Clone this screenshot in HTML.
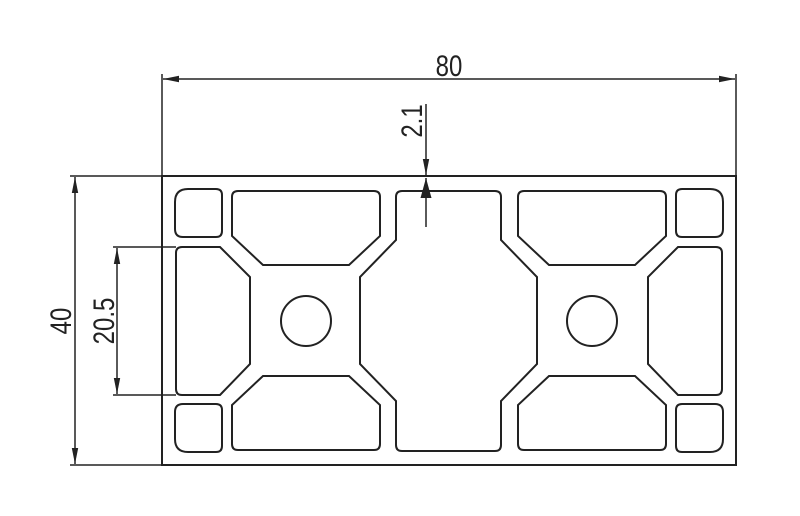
<!DOCTYPE html>
<html><head><meta charset="utf-8"><style>html,body{margin:0;padding:0;background:#fff}svg{display:block}</style></head>
<body>
<svg width="800" height="516" viewBox="0 0 800 516" xmlns="http://www.w3.org/2000/svg">
<defs>
<marker id="a" viewBox="0 0 16 8" refX="16" refY="4" markerWidth="16" markerHeight="8" markerUnits="userSpaceOnUse" orient="auto"><path d="M0,0.8 L16,4 L0,7.2 Z" fill="#222"/></marker>
<marker id="b" viewBox="0 0 20 12" refX="20" refY="6" markerWidth="20" markerHeight="12" markerUnits="userSpaceOnUse" orient="auto"><path d="M0,0.5 L20,6 L0,11.5 Z" fill="#222"/></marker>
</defs>
<g fill="none" stroke="#222" stroke-width="2">
  <rect x="162" y="176" width="574" height="289"/>
  <path d="M182,247 H220 L250,277 V364 L220,395 H182 Q176,395 176,389 V253 Q176,247 182,247 Z"/>
  <path d="M716,247 H678 L648,277 V364 L678,395 H716 Q722,395 722,389 V253 Q722,247 716,247 Z"/>
  <path d="M402,191 H495 Q501,191 501,197 V240 L537,277 V364 L501,401 V445 Q501,451 495,451 H402 Q396,451 396,445 V401 L360,364 V277 L396,240 V197 Q396,191 402,191 Z"/>
  <circle cx="306" cy="321" r="25"/>
  <circle cx="592" cy="321" r="25"/>
</g>
<g fill="none" stroke="#222" stroke-width="2">
  <path d="M188,189 H216 Q222,189 222,195 V231 Q222,237 216,237 H183 Q175,237 175,229 V202 Q175,189 188,189 Z"/>
  <path d="M238,191 H374 Q380,191 380,197 V236 L349,265 H263 L232,236 V197 Q232,191 238,191 Z"/>
  <g transform="translate(898,0) scale(-1,1)">
    <path d="M188,189 H216 Q222,189 222,195 V231 Q222,237 216,237 H183 Q175,237 175,229 V202 Q175,189 188,189 Z"/>
    <path d="M238,191 H374 Q380,191 380,197 V236 L349,265 H263 L232,236 V197 Q232,191 238,191 Z"/>
  </g>
  <g transform="translate(0,641) scale(1,-1)">
    <path d="M188,189 H216 Q222,189 222,195 V231 Q222,237 216,237 H183 Q175,237 175,229 V202 Q175,189 188,189 Z"/>
    <path d="M238,191 H374 Q380,191 380,197 V236 L349,265 H263 L232,236 V197 Q232,191 238,191 Z"/>
    <g transform="translate(898,0) scale(-1,1)">
      <path d="M188,189 H216 Q222,189 222,195 V231 Q222,237 216,237 H183 Q175,237 175,229 V202 Q175,189 188,189 Z"/>
      <path d="M238,191 H374 Q380,191 380,197 V236 L349,265 H263 L232,236 V197 Q232,191 238,191 Z"/>
    </g>
  </g>
</g>
<g stroke="#222" stroke-width="1.5" fill="none">
  <line x1="162" y1="74" x2="162" y2="176"/>
  <line x1="736" y1="74" x2="736" y2="176"/>
  <line x1="449" y1="79" x2="163" y2="79" marker-end="url(#a)"/>
  <line x1="449" y1="79" x2="735" y2="79" marker-end="url(#a)"/>
  <line x1="70" y1="176" x2="162" y2="176"/>
  <line x1="70" y1="465" x2="162" y2="465"/>
  <line x1="75" y1="320" x2="75" y2="177" marker-end="url(#a)"/>
  <line x1="75" y1="320" x2="75" y2="464" marker-end="url(#a)"/>
  <line x1="113" y1="247" x2="176" y2="247"/>
  <line x1="113" y1="395" x2="176" y2="395"/>
  <line x1="117" y1="320" x2="117" y2="248" marker-end="url(#a)"/>
  <line x1="117" y1="320" x2="117" y2="394" marker-end="url(#a)"/>
  <line x1="426" y1="104" x2="426" y2="175" marker-end="url(#a)"/>
  <line x1="426" y1="227" x2="426" y2="178" marker-end="url(#b)"/>
</g>
<g font-family="'Liberation Sans', sans-serif" font-size="30" fill="#222" text-anchor="middle">
  <text transform="translate(449,76) scale(0.8,1)">80</text>
  <text transform="translate(71,321) rotate(-90) scale(0.8,1)">40</text>
  <text transform="translate(114,321) rotate(-90) scale(0.8,1)">20.5</text>
  <text transform="translate(422,121) rotate(-90) scale(0.8,1)">2.1</text>
</g>
</svg>
</body></html>
